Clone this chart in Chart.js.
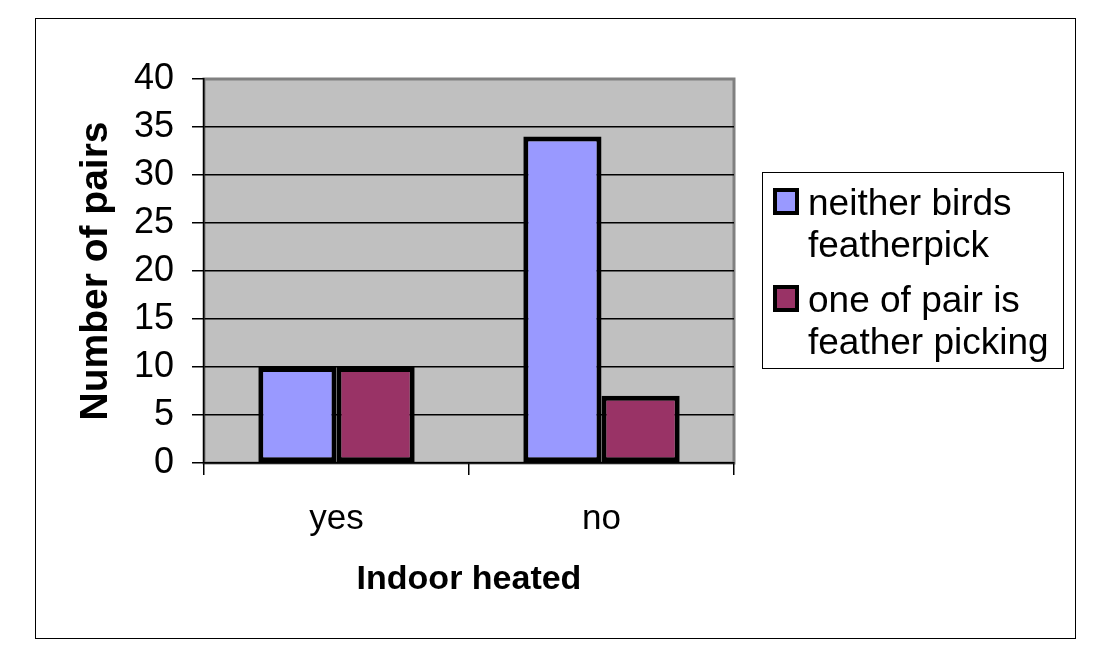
<!DOCTYPE html>
<html>
<head>
<meta charset="utf-8">
<script src="https://cdn.jsdelivr.net/npm/chart.js@4.4.1/dist/chart.umd.min.js"></script>
<style>
  body { margin: 0; background: #fff; }
  #wrap { width: 1105px; height: 655px; }
</style>
</head>
<body>
<div id="wrap"><canvas id="myChart" width="1105" height="655"></canvas></div>
<script>
const categories = ['yes', 'no'];
const neitherPick = [10, 34];
const onePicking = [10, 7];
const seriesNames = [['neither birds', 'featherpick'], ['one of pair is', 'feather picking']];
const seriesColors = ['#9999FF', '#993366'];
const yTicks = [0, 5, 10, 15, 20, 25, 30, 35, 40];

const FONT = '"Liberation Sans", Arial, sans-serif';

// grey plot area with a darker frame, plus the outer chart border
const plotBack = {
  id: 'plotBack',
  beforeDraw(chart) {
    const c = chart.ctx;
    const a = chart.chartArea;
    c.save();
    c.fillStyle = '#fff';
    c.fillRect(0, 0, chart.width, chart.height);
    c.strokeStyle = '#000';
    c.lineWidth = 1;
    c.strokeRect(35.5, 18.5, 1040, 620);
    c.fillStyle = '#C0C0C0';
    c.fillRect(a.left, a.top, a.right - a.left, a.bottom - a.top);
    c.strokeStyle = '#808080';
    c.lineWidth = 3;
    c.strokeRect(a.left, a.top, a.right - a.left, a.bottom - a.top);
    c.restore();
  }
};

// legend with wrapped labels, drawn by hand
const legendBox = {
  id: 'legendBox',
  afterDraw(chart) {
    const c = chart.ctx;
    c.save();
    c.strokeStyle = '#000';
    c.lineWidth = 1;
    c.strokeRect(762.5, 172.5, 301, 196);
    c.font = '37px ' + FONT;
    c.textBaseline = 'alphabetic';
    c.textAlign = 'left';
    let y = 215;
    chart.data.datasets.forEach((ds, i) => {
      c.fillStyle = ds.backgroundColor;
      c.fillRect(775, y - 25, 22, 23);
      c.lineWidth = 4;
      c.strokeStyle = '#000';
      c.strokeRect(775, y - 25, 22, 23);
      c.fillStyle = '#000';
      seriesNames[i].forEach((line, j) => {
        c.fillText(line, 808, y + j * 42);
      });
      y += 97;
    });
    c.restore();
  }
};

const ctx = document.getElementById('myChart').getContext('2d');

var myChart = new Chart(ctx, {
  type: 'bar',
  data: {
    labels: categories,
    datasets: [{
      label: seriesNames[0].join(' '),
      data: neitherPick,
      backgroundColor: seriesColors[0],
      borderColor: '#000',
      borderWidth: 5,
      borderSkipped: false
    }, {
      label: seriesNames[1].join(' '),
      data: onePicking,
      backgroundColor: seriesColors[1],
      borderColor: '#000',
      borderWidth: 5,
      borderSkipped: false
    }]
  },
  options: {
    responsive: false,
    animation: false,
    layout: { padding: { left: 0, top: 79, right: 371, bottom: 42 } },
    datasets: { bar: { categoryPercentage: 0.59, barPercentage: 1 } },
    plugins: {
      legend: { display: false },
      tooltip: { enabled: false }
    },
    scales: {
      x: {
        afterFit(scale) { scale.height = 150; },
        grid: {
          offset: true,
          drawOnChartArea: false,
          drawTicks: true,
          tickLength: 12,
          color: '#000',
          lineWidth: 1.5
        },
        border: { display: true, color: '#000', width: 1.5 },
        ticks: {
          color: '#000',
          padding: 23,
          font: { family: FONT, size: 35 }
        },
        title: {
          display: true,
          text: 'Indoor heated',
          color: '#000',
          padding: { top: 0, bottom: 13 },
          font: { family: FONT, size: 34, weight: 'bold' }
        }
      },
      y: {
        min: 0,
        max: 40,
        afterFit(scale) { scale.width = 204; },
        afterBuildTicks(scale) { scale.ticks = yTicks.map(v => ({ value: v })); },
        grid: {
          color: c => (c.tick && c.tick.value === 40 ? '#808080' : '#000'),
          tickColor: '#000',
          lineWidth: 1.5,
          tickLength: 12
        },
        border: { display: true, color: '#000', width: 1.5 },
        ticks: {
          color: '#000',
          padding: 18,
          font: { family: FONT, size: 36 }
        },
        title: {
          display: true,
          text: 'Number of pairs',
          color: '#000',
          padding: { top: 73, bottom: 0 },
          font: { family: FONT, size: 39, weight: 'bold' }
        }
      }
    }
  },
  plugins: [plotBack, legendBox]
});
</script>
</body>
</html>
